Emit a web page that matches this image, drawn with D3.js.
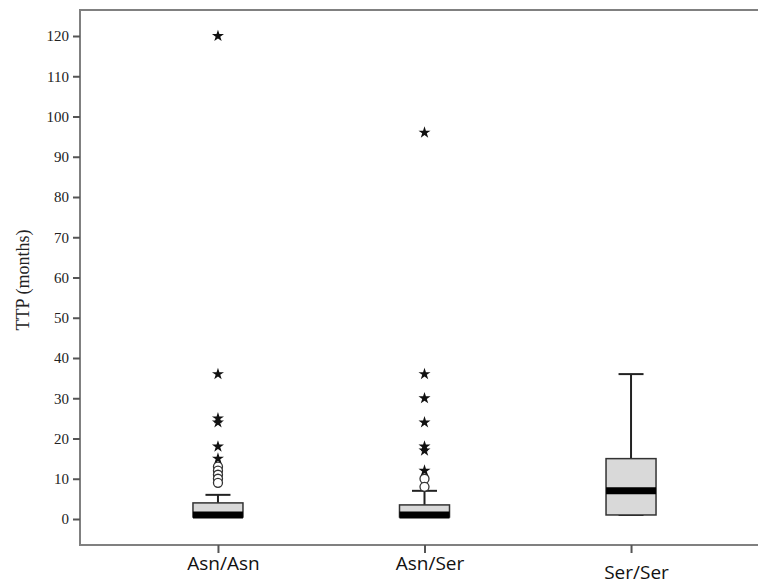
<!DOCTYPE html>
<html>
<head>
<meta charset="utf-8">
<script src="https://cdn.jsdelivr.net/npm/d3@7"></script>
<style>
  body { margin: 0; background: #fff; overflow: hidden; }
</style>
</head>
<body>
<script>
// genotype groups and their box summaries
var groups = ["Asn/Asn", "Asn/Ser", "Ser/Ser"];
var q1     = [0.5, 0.5, 1];
var median = [1, 1, 7];
var q3     = [4, 3.5, 15];
var whiskLo = [0.5, 0.5, 1];
var whiskHi = [6, 7, 36];

// outliers: circles = mild, stars = extreme
var circlePts = [
  {g: "Asn/Asn", v: 13}, {g: "Asn/Asn", v: 12}, {g: "Asn/Asn", v: 11},
  {g: "Asn/Asn", v: 10}, {g: "Asn/Asn", v: 9},
  {g: "Asn/Ser", v: 10}, {g: "Asn/Ser", v: 8}
];
var starPts = [
  {g: "Asn/Asn", v: 120}, {g: "Asn/Asn", v: 36}, {g: "Asn/Asn", v: 25},
  {g: "Asn/Asn", v: 24}, {g: "Asn/Asn", v: 18}, {g: "Asn/Asn", v: 15},
  {g: "Asn/Ser", v: 96}, {g: "Asn/Ser", v: 36}, {g: "Asn/Ser", v: 30},
  {g: "Asn/Ser", v: 24}, {g: "Asn/Ser", v: 18}, {g: "Asn/Ser", v: 17},
  {g: "Asn/Ser", v: 12}
];
var yTicks = [0, 10, 20, 30, 40, 50, 60, 70, 80, 90, 100, 110, 120];

var W = 758, H = 585;
var mLeft = 80, mTop = 10, mBottom = 545;

var svg = d3.select("body").append("svg")
    .attr("width", W)
    .attr("height", H)
    .style("display", "block");

var x = d3.scalePoint()
    .domain(groups)
    .range([mLeft, 769])
    .padding(0.668);

var y = d3.scaleLinear()
    .domain([0, 120])
    .range([519, 36]);

// frame: top, left, bottom (right side runs off the picture)
svg.append("path")
    .attr("d", "M" + W + "," + mTop + "H" + mLeft + "V" + mBottom + "H" + W)
    .attr("fill", "none")
    .attr("stroke", "#808080")
    .attr("stroke-width", 2);

// y axis
var yAxis = svg.append("g")
    .attr("transform", "translate(" + mLeft + ",0)")
    .call(d3.axisLeft(y).tickValues(yTicks).tickSize(7).tickPadding(4));
yAxis.select(".domain").remove();
yAxis.selectAll("line").attr("stroke", "#555").attr("stroke-width", 2);
yAxis.selectAll("text")
    .style("font-family", "'Liberation Serif', 'DejaVu Serif', serif")
    .style("font-size", "15px")
    .attr("fill", "#222");

svg.append("text")
    .attr("transform", "translate(29,280) rotate(-90)")
    .attr("text-anchor", "middle")
    .style("font-family", "'Liberation Serif', serif")
    .style("font-size", "18px")
    .attr("fill", "#222")
    .text("TTP (months)");

// x axis
var xAxis = svg.append("g")
    .attr("transform", "translate(0," + mBottom + ")")
    .call(d3.axisBottom(x).tickSize(8).tickPadding(4));
xAxis.select(".domain").remove();
xAxis.selectAll("line").attr("stroke", "#555").attr("stroke-width", 2);
xAxis.selectAll("text")
    .style("font-family", "'Open Sans', 'Noto Sans', sans-serif")
    .style("font-size", "19px")
    .attr("fill", "#111")
    .attr("dx", 5);
xAxis.selectAll("text").filter(function(d) { return d == "Ser/Ser"; })
    .attr("dy", "1.15em");

var boxW = 50, capW = 25;
var idx = d3.range(groups.length);

var boxes = svg.append("g");

// whiskers
boxes.selectAll(".whisk")
    .data(idx)
    .join("line")
    .attr("x1", function(i) { return x(groups[i]); })
    .attr("x2", function(i) { return x(groups[i]); })
    .attr("y1", function(i) { return y(q3[i]); })
    .attr("y2", function(i) { return y(whiskHi[i]); })
    .attr("stroke", "#222")
    .attr("stroke-width", 2);

boxes.selectAll(".capHi")
    .data(idx)
    .join("line")
    .attr("x1", function(i) { return x(groups[i]) - capW / 2; })
    .attr("x2", function(i) { return x(groups[i]) + capW / 2; })
    .attr("y1", function(i) { return y(whiskHi[i]); })
    .attr("y2", function(i) { return y(whiskHi[i]); })
    .attr("stroke", "#222")
    .attr("stroke-width", 2);

boxes.selectAll(".capLo")
    .data(idx)
    .join("line")
    .attr("x1", function(i) { return x(groups[i]) - capW / 2; })
    .attr("x2", function(i) { return x(groups[i]) + capW / 2; })
    .attr("y1", function(i) { return y(whiskLo[i]); })
    .attr("y2", function(i) { return y(whiskLo[i]); })
    .attr("stroke", "#222")
    .attr("stroke-width", 2);

// boxes
boxes.selectAll(".box")
    .data(idx)
    .join("rect")
    .attr("x", function(i) { return x(groups[i]) - boxW / 2; })
    .attr("y", function(i) { return y(q3[i]); })
    .attr("width", boxW)
    .attr("height", function(i) { return y(q1[i]) - y(q3[i]); })
    .attr("fill", "#d9d9d9")
    .attr("stroke", "#333")
    .attr("stroke-width", 1.5);

// medians
boxes.selectAll(".med")
    .data(idx)
    .join("line")
    .attr("x1", function(i) { return x(groups[i]) - boxW / 2; })
    .attr("x2", function(i) { return x(groups[i]) + boxW / 2; })
    .attr("y1", function(i) { return y(median[i]); })
    .attr("y2", function(i) { return y(median[i]); })
    .attr("stroke", "#000")
    .attr("stroke-width", 7);

// mild outliers
svg.append("g").selectAll("circle")
    .data(circlePts)
    .join("circle")
    .attr("cx", function(d) { return x(d.g); })
    .attr("cy", function(d) { return y(d.v); })
    .attr("r", 4.5)
    .attr("fill", "#fff")
    .attr("stroke", "#333")
    .attr("stroke-width", 1.3);

// extreme outliers
var star = d3.symbol().type(d3.symbolStar).size(45);
svg.append("g").selectAll("path")
    .data(starPts)
    .join("path")
    .attr("transform", function(d) { return "translate(" + x(d.g) + "," + y(d.v) + ")"; })
    .attr("d", star)
    .attr("fill", "#111");
</script>
</body>
</html>
